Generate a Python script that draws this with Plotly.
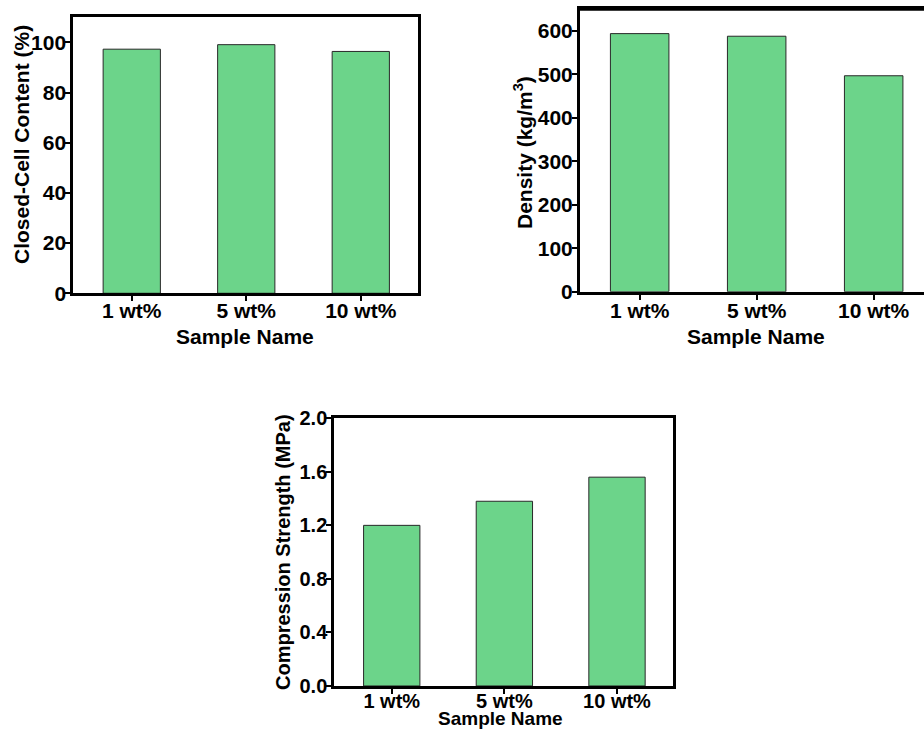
import plotly.graph_objects as go

# Sample groups and measured properties
samples = ["1 wt%", "5 wt%", "10 wt%"]
closed_cell = [97.3, 99.1, 96.4]          # %
density = [594, 588, 497]                  # kg/m^3
compression = [1.20, 1.38, 1.56]           # MPa

closed_ticks = [0, 20, 40, 60, 80, 100]
density_ticks = [0, 100, 200, 300, 400, 500, 600]
compression_ticks = [0.0, 0.4, 0.8, 1.2, 1.6, 2.0]
compression_ticktext = ["0.0", "0.4", "0.8", "1.2", "1.6", "2.0"]

BAR_FILL = "rgb(108,212,138)"
BAR_EDGE = "rgb(40,40,40)"
FONT = "Arial, Liberation Sans, sans-serif"
W, H = 924, 731

fig = go.Figure()

for ys, xa, ya in [(closed_cell, "x", "y"), (density, "x2", "y2"), (compression, "x3", "y3")]:
    fig.add_trace(go.Bar(
        x=samples, y=ys, xaxis=xa, yaxis=ya, width=0.5,
        marker=dict(color=BAR_FILL, line=dict(color=BAR_EDGE, width=1)),
        showlegend=False,
    ))


def font(size):
    return dict(family=FONT, size=size, color="black", weight="bold")


def xaxis(domain, anchor, rng, size, standoff, mirror=True):
    return dict(
        domain=domain, anchor=anchor, range=rng, type="category",
        showline=True, linecolor="black", linewidth=3, mirror=mirror,
        ticks="outside", ticklen=5, tickwidth=2, tickcolor="black",
        tickfont=font(size), ticklabelstandoff=standoff, automargin=False,
        showgrid=False, zeroline=False,
    )


def yaxis(domain, anchor, rng, tickvals, size, standoff, ticktext=None, mirror=True):
    return dict(
        domain=domain, anchor=anchor, range=rng,
        showline=True, linecolor="black", linewidth=3, mirror=mirror,
        ticks="outside", ticklen=5, tickwidth=2, tickcolor="black",
        tickvals=tickvals, ticktext=ticktext if ticktext else [str(v) for v in tickvals],
        tickfont=font(size), ticklabelstandoff=standoff, automargin=False,
        showgrid=False, zeroline=False,
    )


fig.update_layout(
    width=W, height=H,
    margin=dict(l=0, r=0, t=0, b=0, pad=0, autoexpand=False),
    paper_bgcolor="white", plot_bgcolor="white",
    bargap=0.5,
    xaxis=xaxis([0.0794, 0.4524], "y", [-0.51, 2.5], 21, -8),
    yaxis=yaxis([0.5988, 0.9763], "x", [0, 110], closed_ticks, 21, -5),
    xaxis2=xaxis([0.6277, 1.0], "y2", [-0.51, 2.43], 21, -7),
    yaxis2=yaxis([0.6010, 0.9873], "x2", [0, 650], density_ticks, 21, -5, mirror=False),
    xaxis3=xaxis([0.3618, 0.7287], "y3", [-0.51, 2.5], 20, -10),
    yaxis3=yaxis([0.0616, 0.4278], "x3", [0, 2.0], compression_ticks, 20, -5,
                 ticktext=compression_ticktext),
)

# top border for the density panel (its right edge runs past the page)
fig.add_shape(type="line", xref="x2 domain", yref="y2 domain",
              x0=0, x1=1, y0=1, y1=1, line=dict(color="black", width=3))

# axis titles, placed in page pixels (x, y give the text centre)
titles = [
    ("Closed-Cell Content (%)", 21, 145, -90, 21),
    ("Density (kg/m<sup>3</sup>)", 523, 153, -90, 21),
    ("Compression Strength (MPa)", 283, 552, -90, 20),
    ("Sample Name", 245, 336, 0, 21),
    ("Sample Name", 756, 336, 0, 21),
]
for text, px, py, angle, size in titles:
    fig.add_annotation(
        text=text, xref="paper", yref="paper", x=px / W, y=1 - py / H,
        xanchor="center", yanchor="middle", textangle=angle,
        showarrow=False, font=font(size),
    )

# bottom panel's x title sits on the lower page edge
fig.add_annotation(
    text="Sample Name", xref="paper", yref="paper", x=500 / W, y=0,
    xanchor="center", yanchor="bottom", showarrow=False, font=font(19),
)

fig.write_html("out.html")
